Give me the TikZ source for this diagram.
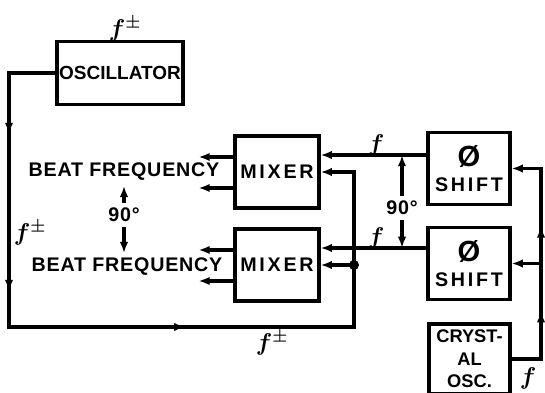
\documentclass[tikz,border=0pt]{standalone}
\usepackage{amsmath,amssymb,bm}
\usepackage{fontspec}
\setmainfont{Liberation Sans}[LetterSpace=4]
\newcommand\widetext{\addfontfeature{LetterSpace=14}}
\newcommand\tighttext{\addfontfeature{LetterSpace=0}}
\usepackage{tikz}
\usetikzlibrary{arrows.meta,positioning,calc,decorations.markings}

\begin{document}
\begin{tikzpicture}[x=0.025cm, y=0.025cm, >={Latex[length=8pt,width=6pt]},
  every node/.style={font=\fontsize{14}{16}\selectfont\bfseries},
  wire/.style={line width=2.5pt},
  blk/.style={draw, line width=2.2pt, inner sep=1pt, align=center},
  mixbox/.style={blk, minimum width=2.1cm, minimum height=1.8cm},
  shiftbox/.style={blk, minimum width=2.05cm, minimum height=1.8cm},
  flabel/.style={font=\LARGE},
  loopdeco/.style={postaction={decorate}, decoration={markings,
    mark=at position 0.152 with {\arrow{>}},
    mark=at position 0.374 with {\arrow{>}},
    mark=at position 0.674 with {\arrow{>}}}},
  xtaldeco/.style={postaction={decorate}, decoration={markings,
    mark=at position 0.31 with {\arrow{>}},
    mark=at position 0.65 with {\arrow{>}}}}]
\useasboundingbox (0,0) rectangle (545,393);
\clip (0,0) rectangle (545,393);

\node[blk, minimum width=3.15cm, minimum height=1.575cm, font=\fontsize{13.5}{15}\selectfont\bfseries\tighttext] (osc) at (120,320) {OSCILLATOR};
\node[mixbox] (mix1) at (277,221) {\widetext MIXER};
\node[mixbox] (mix2) at (277,128) {\widetext MIXER};
\node[shiftbox] (shift1) at (469,224.5) {{\huge\O}\\[2pt]\widetext SHIFT};
\node[shiftbox] (shift2) at (469,129.5) {{\huge\O}\\[2pt]\widetext SHIFT};
\node[blk, minimum width=2.025cm, minimum height=1.75cm, font=\fontsize{13}{16}\selectfont\bfseries\tighttext] (xtal) at (469.5,34) {CRYST-\\AL\\OSC.};

\node[flabel] (fosc) at (125,364) {$\bm{f}^{\bm{\pm}}$};
\node[flabel] (fleft) at (30,160) {$\bm{f}^{\bm{\pm}}$};
\node[flabel] (fbot) at (272,50) {$\bm{f}^{\bm{\pm}}$};
\node[flabel] (fup) at (376,248) {$\bm{f}$};
\node[flabel] (flow) at (376,155) {$\bm{f}$};
\node[flabel] (fxtal) at (528,15) {$\bm{f}$};

\node (beat1) at (124,221) {BEAT FREQUENCY};
\node (beat2) at (127,126) {BEAT FREQUENCY};
\node (ang1) at (124,178) {90°};
\node (ang2) at (402,185) {90°};

\coordinate (s1o) at ($(shift1.west)+(0,13.5)$);
\coordinate (s2o) at ($(shift2.west)+(0,15.5)$);
\coordinate (bl) at (9,66);
\coordinate (br) at (354,66);
\coordinate (jn) at (354,128);
\coordinate (rt) at (541,224.5);

\draw[wire, ->] (s1o) -- (mix1.east |- s1o);
\draw[wire, ->] (s2o) -- (mix2.east |- s2o);
\draw[wire, ->] (ang1) -- (ang1 |- beat1.south);
\draw[wire, ->] (ang1) -- (ang1 |- beat2.north);
\draw[wire, ->] (ang2) -- (ang2 |- s1o);
\draw[wire, ->] (ang2) -- (ang2 |- s2o);

\foreach \m in {mix1,mix2} {
  \draw[wire, ->] ($(\m.west)+(0,15)$) -- ++(-35,0);
  \draw[wire, ->] ($(\m.west)+(0,-16)$) -- ++(-35,0);
}

\draw[wire, loopdeco] (osc.west) -| (bl) -- (br) -- (jn);
\draw[wire, ->] (jn) |- (mix1.east);
\draw[wire, ->] (jn) -- (mix2.east);
\fill (jn) circle (5);

\draw[wire, ->, xtaldeco] (xtal.east) -| (rt) -- (shift1.east);
\draw[wire, ->] (shift2.east -| rt) -- (shift2.east);
\end{tikzpicture}
\end{document}
